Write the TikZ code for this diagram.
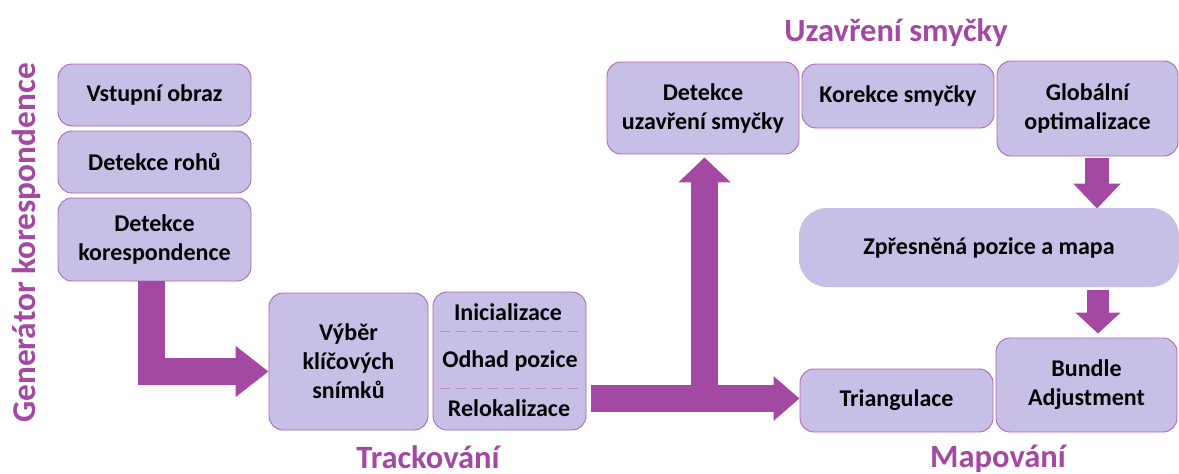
\documentclass[tikz,border=0pt]{standalone}
\usepackage{fontspec}
\setmainfont{Carlito}
\usetikzlibrary{arrows.meta,calc}
\definecolor{boxfill}{RGB}{200,191,231}
\definecolor{boxline}{RGB}{178,102,180}
\definecolor{plum}{RGB}{163,73,164}
\begin{document}
\begin{tikzpicture}[x=1pt,y=-1pt,
  box/.style={draw=boxline, line width=0.9pt, fill=boxfill, rounded corners=14pt,
    inner sep=0pt, align=center, font=\fontsize{24}{29}\selectfont\bfseries},
  softbox/.style={box, draw=none, rounded corners=28pt},
  item/.style={inner sep=0pt, anchor=base, font=\fontsize{24}{29}\selectfont\bfseries},
  title/.style={inner sep=0pt, anchor=base, text=plum, font=\fontsize{32.5}{38}\selectfont\bfseries},
  fat/.style={draw=plum, line width=#1, line cap=butt, line join=miter},
  sep/.style={draw=boxline!80, line width=0.9pt, dash pattern=on 10pt off 6pt},
]
\useasboundingbox (0,0) rectangle (1179,474);

% correspondence generator column
\node[box, minimum width=193pt, minimum height=62pt] (vst) at (154.5,95) {Vstupní obraz};
\node[box, minimum width=193pt, minimum height=62pt] (roh) at (154.5,162) {Detekce rohů};
\node[box, minimum width=193pt, minimum height=83pt] (kor) at (154.5,239.5) {Detekce\\korespondence};

% tracking
\node[box, minimum width=159pt, minimum height=137pt] (vyb) at (348.5,361.5) {Výběr\\klíčových\\snímků};
\node[box, minimum width=153pt, minimum height=138pt] (trk) at (509.5,361) {};
\node[item] (ini) at (508,320) {Inicializace};
\node[item] (odh) at (510,367) {Odhad pozice};
\node[item] (rel) at (509,416) {Relokalizace};
\draw[sep] ($(trk.north west)+(7,40)$) -- ($(trk.north east)+(-6,40)$);
\draw[sep] ($(trk.north west)+(7,97)$) -- ($(trk.north east)+(-6,97)$);

% loop closing
\node[box, minimum width=192pt, minimum height=92pt] (duz) at (703,108) {Detekce\\uzavření smyčky};
\node[box, minimum width=192pt, minimum height=64pt] (kss) at (898,96) {Korekce smyčky};
\node[box, minimum width=181pt, minimum height=95pt] (glo) at (1087.5,108.5) {Globální\\optimalizace};

% mapping
\node[softbox, minimum width=380pt, minimum height=79pt] (zpr) at (989,247.5) {Zpřesněná pozice a mapa};
\node[box, minimum width=193pt, minimum height=63pt] (tri) at (896.5,400.5) {Triangulace};
\node[box, minimum width=181pt, minimum height=94pt] (bun) at (1086.5,385) {Bundle\\Adjustment};

% section titles
\node[title, rotate=90, font=\fontsize{33.3}{38}\selectfont\bfseries] (tgen) at (35,243) {Generátor korespondence};
\node[title] (tuz) at (896,41) {Uzavření smyčky};
\node[title] (ttr) at (428,468) {Trackování};
\node[title] (tma) at (998,467) {Mapování};

% block arrows
\draw[fat=27pt, -{Triangle[length=33pt,width=49pt]}]
  ($(kor.south)+(-3.5,0)$) |- ($(vyb.west)+(0,10)$);
\coordinate (split) at ($(tri.west)+(0,-2)$);
\draw[fat=27pt, -{Triangle[length=26pt,width=43pt]}]
  ($(trk.east |- split)+(5,0)$) -- (split);
\draw[fat=27pt, -{Triangle[length=25pt,width=51pt]}]
  ($(duz.south |- split)+(1.5,0)$) -- ($(duz.south)+(1.5,3)$);
\draw[fat=24pt, -{Triangle[length=25pt,width=46pt]}]
  ($(glo.south)+(9.5,2)$) -- ($(glo.south |- zpr.north)+(9.5,1)$);
\draw[fat=22pt, -{Triangle[length=21pt,width=44pt]}]
  ($(zpr.south -| bun.north)+(11.5,3)$) -- ($(bun.north)+(11.5,-4)$);
\end{tikzpicture}
\end{document}
